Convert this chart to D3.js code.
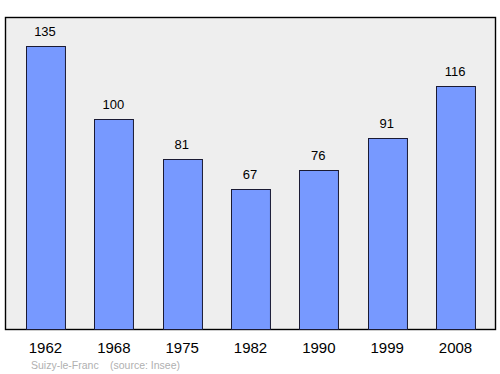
<!DOCTYPE html>
<html>
<head>
<meta charset="utf-8">
<script src="https://cdn.jsdelivr.net/npm/d3@7"></script>
<style>
  body { margin: 0; background: #fff; }
  text { font-family: 'Liberation Sans', Arial, sans-serif; }
</style>
</head>
<body>
<div id="chart"></div>
<script>
var years = ['1962', '1968', '1975', '1982', '1990', '1999', '2008']
var population = [135, 100, 81, 67, 76, 91, 116]
var commune = 'Suizy-le-Franc'
var source = '(source: Insee)'

var width = 500
var height = 374

var plot = { left: 5.5, top: 17.5, right: 495.5, bottom: 329.5 }

var svg = d3
  .select('#chart')
  .append('svg')
  .attr('width', width)
  .attr('height', height)

var xScale = d3
  .scaleBand()
  .domain(years)
  .range([26, 475])
  .paddingInner(0.43)
  .paddingOuter(0)

var yScale = d3
  .scaleLinear()
  .domain([0, d3.max(population) * 1.1])
  .range([plot.bottom, plot.top])

svg
  .append('rect')
  .attr('x', plot.left)
  .attr('y', plot.top)
  .attr('width', plot.right - plot.left)
  .attr('height', plot.bottom - plot.top)
  .attr('fill', '#eeeeee')
  .attr('stroke', '#000')
  .attr('stroke-width', 1.4)

var data = years.map((y, i) => ({ year: y, value: population[i] }))

svg
  .selectAll('.bar')
  .data(data)
  .enter()
  .append('rect')
  .attr('class', 'bar')
  .attr('x', d => Math.round(xScale(d.year)) + 0.5)
  .attr('y', d => Math.round(yScale(d.value)) + 0.5)
  .attr('width', xScale.bandwidth())
  .attr('height', d => plot.bottom - Math.round(yScale(d.value)) - 0.5)
  .attr('fill', '#7799ff')
  .attr('stroke', '#1a1a33')
  .attr('stroke-width', 1)

svg
  .selectAll('.value')
  .data(data)
  .enter()
  .append('text')
  .attr('class', 'value')
  .attr('x', d => xScale(d.year) + xScale.bandwidth() / 2 - 0.5)
  .attr('y', d => yScale(d.value) - 10)
  .attr('text-anchor', 'middle')
  .attr('font-size', 13)
  .attr('fill', '#000')
  .text(d => d.value)

svg
  .selectAll('.year')
  .data(years)
  .enter()
  .append('text')
  .attr('class', 'year')
  .attr('x', d => xScale(d) + xScale.bandwidth() / 2)
  .attr('y', 352.5)
  .attr('text-anchor', 'middle')
  .attr('font-size', 15)
  .attr('fill', '#000')
  .text(d => d)

svg
  .append('text')
  .attr('x', 31)
  .attr('y', 369)
  .attr('font-size', 10.5)
  .attr('fill', '#b0b0b0')
  .text(commune)

svg
  .append('text')
  .attr('x', 110)
  .attr('y', 369)
  .attr('font-size', 10.5)
  .attr('fill', '#b0b0b0')
  .text(source)
</script>
</body>
</html>
